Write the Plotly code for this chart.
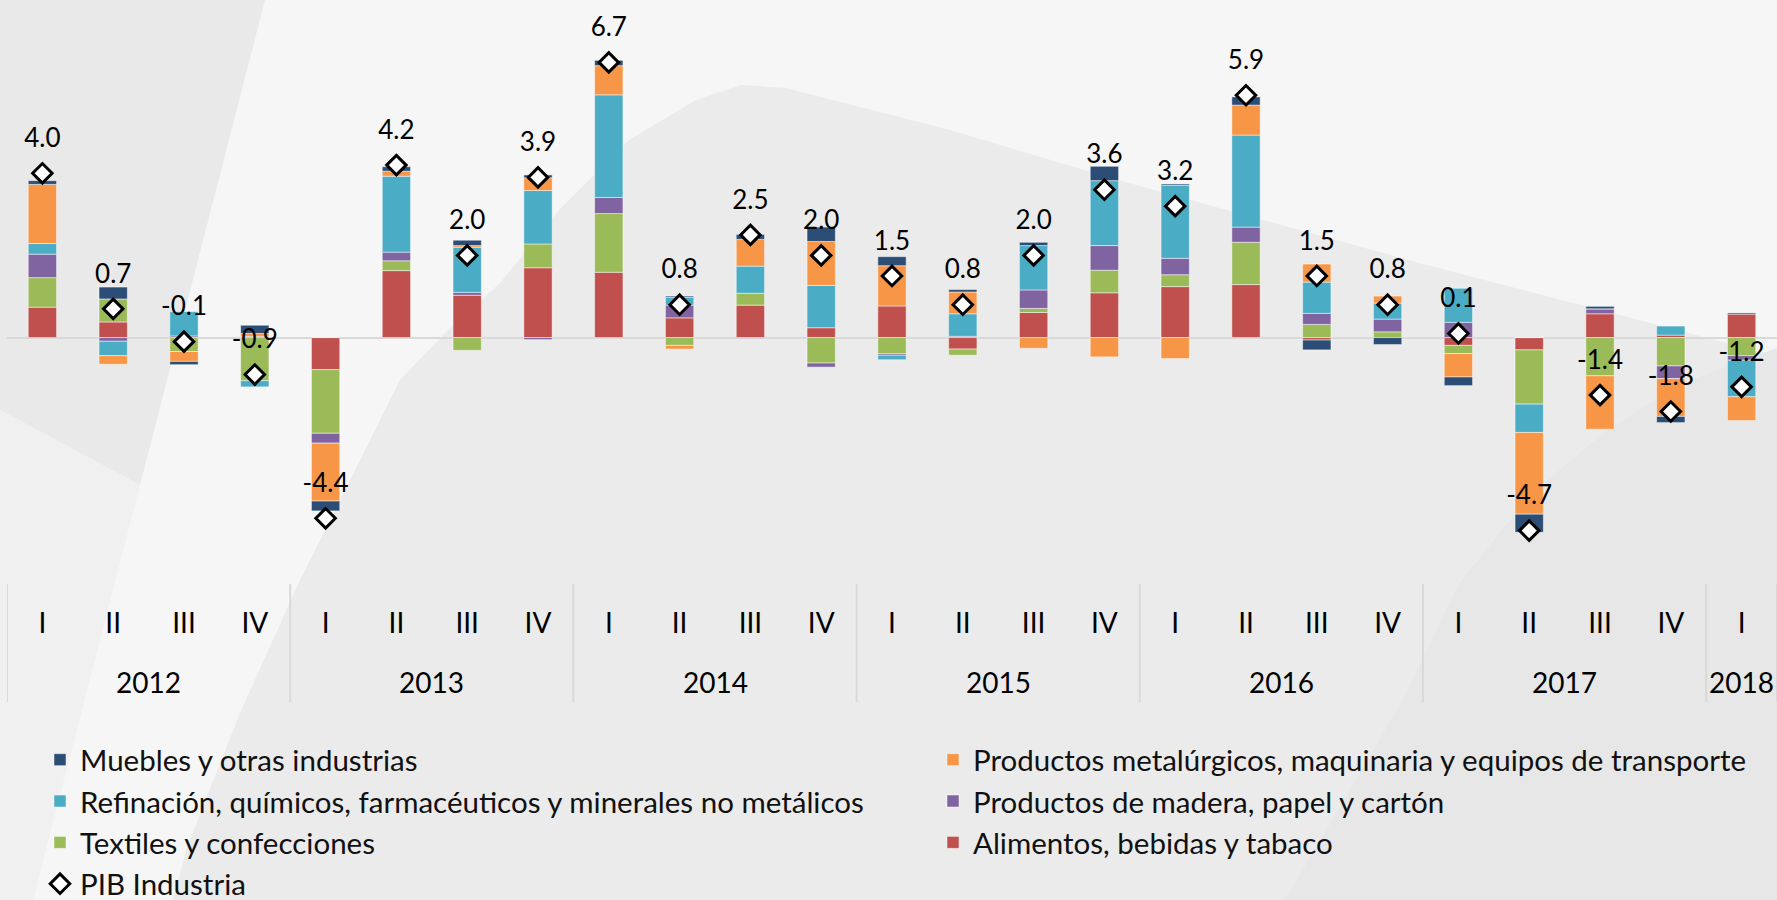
import plotly.graph_objects as go

# ---------------- data ----------------
years = ["2012"] * 4 + ["2013"] * 4 + ["2014"] * 4 + ["2015"] * 4 + ["2016"] * 4 + ["2017"] * 4 + ["2018"]
quarters = ["I", "II", "III", "IV"] * 6 + ["I"]

alimentos = [0.74, 0.38, 0.00, 0.00, -0.78, 1.63, 1.03, 1.70, 1.59, 0.48, 0.79, 0.24,
             0.77, -0.28, 0.61, 1.09, 1.24, 1.29, -0.06, 0.00, -0.19, -0.30, 0.58, 0.06, 0.57]
textiles = [0.72, 0.56, -0.34, -1.05, -1.55, 0.24, -0.31, 0.58, 1.43, -0.19, 0.29, -0.62,
            -0.39, -0.15, 0.10, 0.55, 0.29, 1.03, 0.32, 0.14, -0.20, -1.32, -0.93, -0.69, -0.44]
madera = [0.57, -0.09, 0.04, 0.03, -0.24, 0.21, 0.07, -0.05, 0.39, 0.31, -0.02, -0.10,
          -0.04, 0.03, 0.45, 0.60, 0.40, 0.37, 0.27, 0.31, 0.37, 0.00, 0.12, -0.31, -0.11]
refinacion = [0.26, -0.35, 0.59, -0.15, 0.00, 1.85, 1.10, 1.30, 2.50, 0.19, 0.66, 1.03,
              -0.11, 0.55, 1.08, 1.58, 1.78, 2.24, 0.76, 0.39, 0.83, -0.69, 0.00, 0.22, -0.89]
metalurgicos = [1.44, -0.21, -0.24, 0.07, -1.41, 0.12, 0.04, 0.31, 0.71, -0.09, 0.65, 1.07,
                0.98, 0.53, -0.26, -0.47, -0.51, 0.73, 0.44, 0.17, -0.57, -1.99, -1.30, -0.92, -0.58]
muebles = [0.09, 0.29, -0.08, 0.20, -0.24, 0.11, 0.13, 0.07, 0.13, 0.03, 0.12, 0.35,
           0.22, 0.06, 0.08, 0.35, 0.03, 0.20, -0.24, -0.17, -0.21, -0.44, 0.06, -0.15, 0.03]
pib = [4.0, 0.7, -0.1, -0.9, -4.4, 4.2, 2.0, 3.9, 6.7, 0.8, 2.5, 2.0,
       1.5, 0.8, 2.0, 3.6, 3.2, 5.9, 1.5, 0.8, 0.1, -4.7, -1.4, -1.8, -1.2]

# (name, values, colour, legend, rank) -- trace order = stacking order
series = [
    ("Alimentos, bebidas y tabaco", alimentos, "#c0504d", "legend2", 3),
    ("Textiles y confecciones", textiles, "#9bbb59", "legend", 3),
    ("Productos de madera, papel y cartón", madera, "#8064a2", "legend2", 2),
    ("Refinación, químicos, farmacéuticos y minerales no metálicos", refinacion, "#4bacc6", "legend", 2),
    ("Productos metalúrgicos, maquinaria y equipos de transporte", metalurgicos, "#f79646", "legend2", 1),
    ("Muebles y otras industrias", muebles, "#2c4d75", "legend", 1),
]

FONT = "Lato"
W, H = 1777, 900
ML, MR, MT, MB = 7, 0, 9, 316
PW, PH = W - ML - MR, H - MT - MB


def px(x, y):
    """pixel -> paper coordinates (decorative background / legend placement)"""
    return (x - ML) / PW, (H - MB - y) / PH


def path(points):
    s = ""
    for i, (x, y) in enumerate(points):
        X, Y = px(x, y)
        s += ("M" if i == 0 else "L") + f"{X:.5f},{Y:.5f} "
    return s + "Z"


cats = [f"{q} {y}" for q, y in zip(quarters, years)]

fig = go.Figure()

for name, vals, col, leg, rank in series:
    fig.add_trace(go.Bar(
        x=cats, y=vals, name=name,
        marker=dict(color=col, line=dict(color="rgba(255,255,255,0.6)", width=0.8)),
        legend=leg, legendrank=rank, legendgroup=name, hoverinfo="skip"))

fig.add_trace(go.Scatter(
    x=cats, y=pib, mode="markers+text", text=[f"{v:.1f}" for v in pib], textposition="top center",
    marker=dict(size=30, color="rgba(0,0,0,0)"), textfont=dict(family=FONT, size=26, color="black"),
    showlegend=False, hoverinfo="skip", cliponaxis=False))

fig.add_trace(go.Scatter(
    x=cats, y=pib, mode="markers", name="PIB Industria",
    marker=dict(symbol="diamond", size=15, color="white", line=dict(color="black", width=3)),
    legend="legend", legendrank=4, legendgroup="PIB", hoverinfo="skip", cliponaxis=False))

# ---- decorative background shapes ----
band = [(0, 0), (265, 0), (140, 485), (0, 410)]
lowleft = [(0, 410), (140, 485), (33, 900), (0, 900)]
big = [(173, 900), (187, 847), (240, 713), (300, 580), (350, 480), (400, 380), (450, 328),
       (500, 283), (562, 207), (629, 140), (696, 100), (741, 85), (786, 88), (950, 130),
       (1111, 178), (1423, 264), (1777, 356), (1777, 900)]
lowright = [(1285, 900), (1350, 790), (1406, 694), (1458, 585), (1531, 494), (1605, 432),
            (1678, 385), (1777, 348), (1777, 900)]
shapes = []
for pts, col in [(band, "#e9e9e9"), (lowleft, "#f0f0f0"), (big, "#ebebeb"), (lowright, "#e7e7e7")]:
    shapes.append(dict(type="path", path=path(pts), xref="paper", yref="paper", fillcolor=col,
                       line=dict(width=0), layer="below"))

# year group dividers and year labels (multi-level category axis)
bounds = [-0.5] + [i + 0.5 for i in range(len(years) - 1) if years[i] != years[i + 1]] + [len(years) - 0.5]
for b in bounds:
    shapes.append(dict(type="line", xref="x", yref="paper", x0=b, x1=b, y0=0, y1=px(0, 702)[1],
                       line=dict(color="#d9d9d9", width=2), layer="below"))

annotations = []
for yr in dict.fromkeys(years):
    idx = [i for i, v in enumerate(years) if v == yr]
    annotations.append(dict(x=sum(idx) / len(idx), y=px(0, 682)[1], xref="x", yref="paper",
                            text=yr, showarrow=False, yanchor="middle",
                            font=dict(family=FONT, size=28, color="black")))

fig.update_layout(
    width=W, height=H, margin=dict(l=ML, r=MR, t=MT, b=MB, autoexpand=False),
    paper_bgcolor="#f6f6f6", plot_bgcolor="rgba(0,0,0,0)",
    barmode="relative", bargap=0.6,
    font=dict(family=FONT, size=28, color="black"),
    shapes=shapes, annotations=annotations,
    xaxis=dict(type="category", range=[-0.5, len(cats) - 0.5], tickvals=cats, ticktext=quarters,
               showgrid=False, ticks="", showline=False, ticklabelstandoff=20,
               tickfont=dict(family=FONT, size=28, color="black")),
    yaxis=dict(range=[-6, 8], showticklabels=False, showgrid=False, zeroline=True,
               zerolinecolor="#d9d9d9", zerolinewidth=2),
    legend=dict(x=px(40, 0)[0], y=px(0, 734)[1], xanchor="left", yanchor="top",
                orientation="v", traceorder="grouped", tracegroupgap=0,
                bgcolor="rgba(0,0,0,0)", font=dict(family=FONT, size=29.5, color="#111")),
    legend2=dict(x=px(933, 0)[0], y=px(0, 734)[1], xanchor="left", yanchor="top",
                 orientation="v", traceorder="grouped", tracegroupgap=0,
                 bgcolor="rgba(0,0,0,0)", font=dict(family=FONT, size=29.5, color="#111")),
)

fig.write_html(
    "out.html",
    config={"displayModeBar": False},
    post_script=(
        "var h=document.documentElement, b=document.body;"
        "b.style.margin='0px'; b.style.padding='0px';"
        "h.style.width=b.style.width='1777px';"
        "h.style.height=b.style.height='900px';"
        "h.style.overflow=b.style.overflow='hidden';"
        "h.style.background=b.style.background='#f6f6f6';"
        "window.scrollTo(0,0);"
    ),
)
